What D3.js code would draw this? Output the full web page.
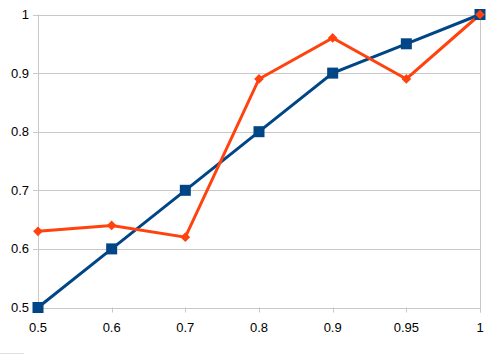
<!DOCTYPE html>
<html><head><meta charset="utf-8">
<script src="https://cdn.jsdelivr.net/npm/d3@7"></script>
<style>body{margin:0;background:#fff}svg{display:block}</style>
</head><body>
<script>
const categories = ["0.5","0.6","0.7","0.8","0.9","0.95","1"];
const seriesBlue = [0.5,0.6,0.7,0.8,0.9,0.95,1.0];
const seriesOrange = [0.63,0.64,0.62,0.89,0.96,0.89,1.0];
const yTicks = [0.5,0.6,0.7,0.8,0.9,1];
const yTickLabels = ["0.5","0.6","0.7","0.8","0.9","1"];

const W=498,H=354;
const m={l:38,r:18,t:14.5,b:46.5};
const svg=d3.select("body").append("svg").attr("width",W).attr("height",H);
const x=d3.scalePoint().domain(categories).range([m.l,W-m.r]);
const y=d3.scaleLinear().domain([0.5,1]).range([H-m.b,m.t]);
const g=svg.append("g");
const grey="#c8c8c8";
// gridlines
g.selectAll(".grid").data(yTicks).join("line")
 .attr("x1",m.l-5).attr("x2",W-m.r).attr("y1",d=>Math.round(y(d))+0.5).attr("y2",d=>Math.round(y(d))+0.5)
 .attr("stroke",grey).attr("stroke-width",1);
// vertical edges
[m.l,W-m.r].forEach(px=>g.append("line").attr("x1",px+0.5).attr("x2",px+0.5).attr("y1",y(1)).attr("y2",y(0.5)+5).attr("stroke",grey));
// x ticks
g.selectAll(".xt").data(categories).join("line")
 .attr("x1",d=>Math.round(x(d))+0.5).attr("x2",d=>Math.round(x(d))+0.5)
 .attr("y1",y(0.5)).attr("y2",y(0.5)+5).attr("stroke",grey);
// labels
g.selectAll(".yl").data(yTicks).join("text")
 .attr("x",m.l-9).attr("y",d=>y(d)).attr("dy","0.35em").attr("text-anchor","end")
 .attr("font-family","Liberation Sans, Arial, sans-serif").attr("font-size",13).attr("fill","#000")
 .text((d,i)=>yTickLabels[i]);
g.selectAll(".xl").data(categories).join("text")
 .attr("x",d=>x(d)).attr("y",y(0.5)+20).attr("dy","0.35em").attr("text-anchor","middle")
 .attr("font-family","Liberation Sans, Arial, sans-serif").attr("font-size",13).attr("fill","#000")
 .text(d=>d);
// lines
const line=d3.line().x((d,i)=>x(categories[i])).y(d=>y(d));
const blue="#004586", orange="#ff420e";
g.append("path").datum(seriesBlue).attr("d",line).attr("fill","none").attr("stroke",blue).attr("stroke-width",3);
g.append("path").datum(seriesOrange).attr("d",line).attr("fill","none").attr("stroke",orange).attr("stroke-width",3);
g.selectAll(".sq").data(seriesBlue).join("rect")
 .attr("x",(d,i)=>x(categories[i])-5.5).attr("y",d=>y(d)-5.5).attr("width",11).attr("height",11).attr("fill",blue);
g.selectAll(".dm").data(seriesOrange).join("path")
 .attr("d",d3.symbol(d3.symbolDiamond2 || d3.symbolDiamond,60))
 .attr("transform",(d,i)=>`translate(${x(categories[i])},${y(d)}) rotate(${d3.symbolDiamond2?0:0})`)
 .attr("fill",orange);
// small artifact line bottom-left
svg.append("line").attr("x1",0).attr("x2",24).attr("y1",353.5).attr("y2",353.5).attr("stroke","#e0e0e0");
</script>
</body></html>
